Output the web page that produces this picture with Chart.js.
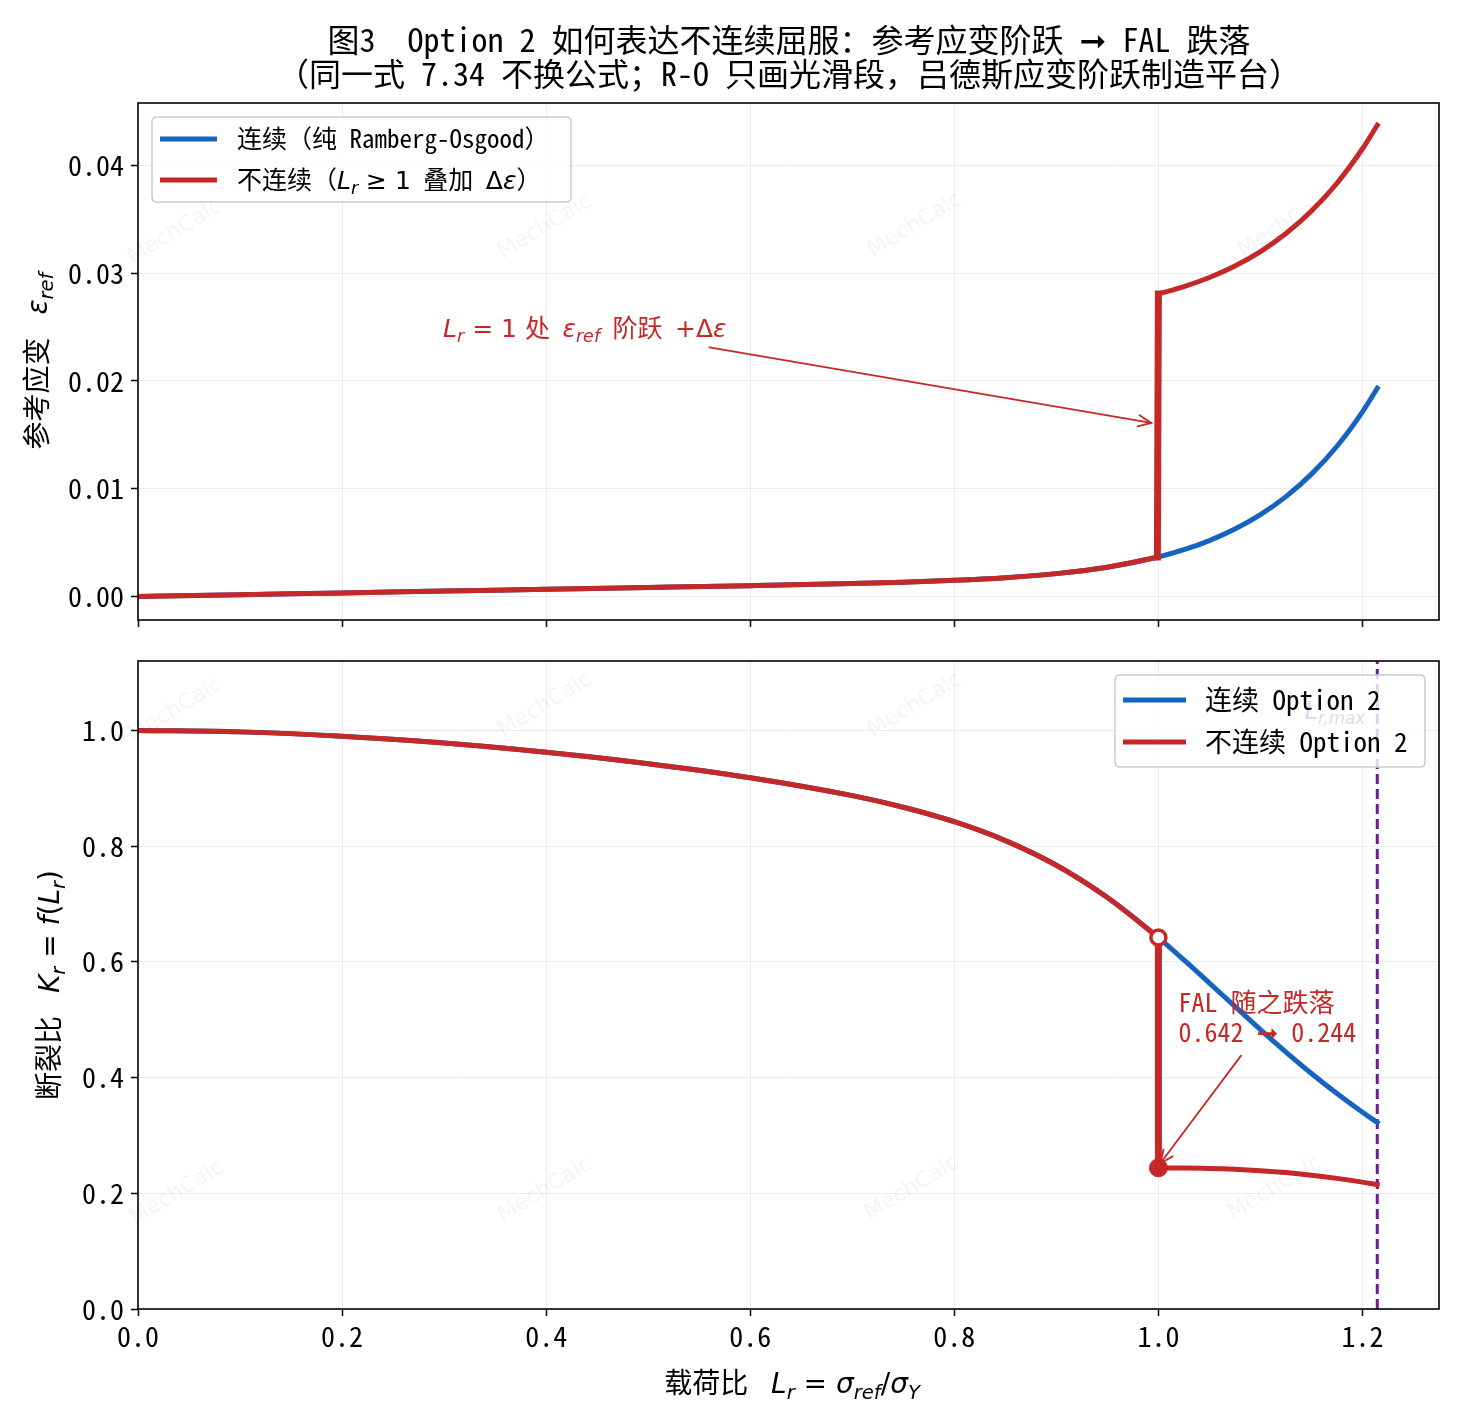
<!DOCTYPE html>
<html><head><meta charset="utf-8">
<script src="https://cdn.jsdelivr.net/npm/chart.js@4.4.1/dist/chart.umd.min.js"></script>
<style>
html,body{margin:0;padding:0;background:#fff;}
#wrap{position:relative;width:1459px;height:1419px;background:#fff;overflow:hidden;}
canvas{position:absolute;left:0;}
</style>
</head><body>
<div id="wrap">
<canvas id="c1" width="1459" height="640" style="top:0px;width:1459px;height:640px"></canvas>
<canvas id="c2" width="1459" height="779" style="top:640px;width:1459px;height:779px"></canvas>
</div>
<script>
// ---------------- DATA ----------------
const LrCont = [0, 0.1, 0.2, 0.3, 0.4, 0.5, 0.6, 0.7, 0.75, 0.8, 0.85, 0.9, 0.95, 1.0, 1.025, 1.05, 1.075, 1.1, 1.125, 1.15, 1.175, 1.2, 1.2145];
const epsCont = [0, 0.000167, 0.000333, 0.0005, 0.000667, 0.000834, 0.001007, 0.001205, 0.001332, 0.001501, 0.001746, 0.002121, 0.002715, 0.003667, 0.004339, 0.005188, 0.006255, 0.007594, 0.009268, 0.011353, 0.013938, 0.017134, 0.019316];
const LrUpper = [1.0, 1.025, 1.05, 1.075, 1.1, 1.125, 1.15, 1.175, 1.2, 1.2145];
const epsDisc = [0.028067, 0.028739, 0.029588, 0.030655, 0.031994, 0.033668, 0.035753, 0.038338, 0.041534, 0.043716];
const KrCont = [1.0, 0.9975, 0.9901, 0.9782, 0.9622, 0.9425, 0.9183, 0.8873, 0.8673, 0.8422, 0.8096, 0.7669, 0.7111, 0.6419, 0.6034, 0.5634, 0.5229, 0.4829, 0.4441, 0.4071, 0.3723, 0.3400, 0.3224];
const KrDisc = [0.2435, 0.2436, 0.2430, 0.2415, 0.2391, 0.2358, 0.2313, 0.2258, 0.2193, 0.2150];
const LrJump = 1.0;
const LrMax = 1.2145;
const KrBefore = 0.642, KrAfter = 0.244;
const xTicks = [0, 0.2, 0.4, 0.6, 0.8, 1.0, 1.2];
const xTickLabels = ['0.0', '0.2', '0.4', '0.6', '0.8', '1.0', '1.2'];
const yTopTicks = [0, 0.01, 0.02, 0.03, 0.04];
const yTopLabels = ['0.00', '0.01', '0.02', '0.03', '0.04'];
const yBotTicks = [0, 0.2, 0.4, 0.6, 0.8, 1.0];
const yBotLabels = ['0.0', '0.2', '0.4', '0.6', '0.8', '1.0'];

// ---------------- STYLE ----------------
const MONO = '"Noto Sans Mono CJK SC", "DejaVu Sans Mono", "Noto Sans CJK SC", monospace';
const BLUE = '#1565c0', RED = '#c62828', PURPLE = '#6a1b9a', GRID = '#ebebeb';
const LW = 5;

const xy = (xs, ys) => xs.map((x, i) => ({x: x, y: ys[i]}));
const nLow = LrCont.indexOf(LrJump) + 1;

function fontFor(seg, size) {
  const s = seg.sub ? size * 0.7 : size;
  if (seg.f === 'mi') return 'italic ' + s + 'px "DejaVu Sans"';
  if (seg.f === 'm') return s + 'px "DejaVu Sans"';
  if (seg.f === 'a') return s + 'px "DejaVu Sans"';
  return s + 'px ' + MONO;
}
function richWidth(ctx, segs, size) {
  let w = 0;
  for (const sg of segs) { ctx.font = fontFor(sg, size); w += ctx.measureText(sg.t).width; }
  return w;
}
function drawRich(ctx, segs, x, yc, size, color, align) {
  const w = richWidth(ctx, segs, size);
  let cx = align === 'center' ? x - w / 2 : (align === 'right' ? x - w : x);
  const base = yc + size * 0.36;
  ctx.save();
  ctx.textBaseline = 'alphabetic'; ctx.textAlign = 'left'; ctx.fillStyle = color;
  for (const sg of segs) {
    ctx.font = fontFor(sg, size);
    ctx.fillText(sg.t, cx, base + (sg.sub ? size * 0.2 : 0));
    cx += ctx.measureText(sg.t).width;
  }
  ctx.restore();
}
function roundRect(ctx, x, y, w, h, r) {
  ctx.beginPath();
  ctx.moveTo(x + r, y); ctx.lineTo(x + w - r, y); ctx.quadraticCurveTo(x + w, y, x + w, y + r);
  ctx.lineTo(x + w, y + h - r); ctx.quadraticCurveTo(x + w, y + h, x + w - r, y + h);
  ctx.lineTo(x + r, y + h); ctx.quadraticCurveTo(x, y + h, x, y + h - r);
  ctx.lineTo(x, y + r); ctx.quadraticCurveTo(x, y, x + r, y); ctx.closePath();
}
function drawLegend(ctx, box, entries, size) {
  ctx.save();
  roundRect(ctx, box.x, box.y, box.w, box.h, 5);
  ctx.fillStyle = 'rgba(255,255,255,0.8)'; ctx.fill();
  ctx.strokeStyle = '#cccccc'; ctx.lineWidth = 1.5; ctx.stroke();
  for (const e of entries) {
    ctx.beginPath(); ctx.strokeStyle = e.color; ctx.lineWidth = LW; ctx.lineCap = 'butt';
    ctx.moveTo(box.lx0, e.y); ctx.lineTo(box.lx1, e.y); ctx.stroke();
    drawRich(ctx, e.segs, box.tx, e.y, size, '#000', 'left');
  }
  ctx.restore();
}
function arrow(ctx, x0, y0, x1, y1, color) {
  ctx.save();
  ctx.strokeStyle = color; ctx.lineWidth = 1.8; ctx.lineCap = 'round';
  ctx.beginPath(); ctx.moveTo(x0, y0); ctx.lineTo(x1, y1); ctx.stroke();
  const a = Math.atan2(y1 - y0, x1 - x0), L = 14, s = 0.42;
  ctx.beginPath();
  ctx.moveTo(x1 - L * Math.cos(a - s), y1 - L * Math.sin(a - s));
  ctx.lineTo(x1, y1);
  ctx.lineTo(x1 - L * Math.cos(a + s), y1 - L * Math.sin(a + s));
  ctx.stroke();
  ctx.restore();
}
function watermark(ctx, pts) {
  ctx.save();
  ctx.fillStyle = 'rgba(0,0,0,0.045)';
  ctx.font = '22px "DejaVu Sans"'; ctx.textAlign = 'center'; ctx.textBaseline = 'middle';
  for (const p of pts) {
    ctx.save(); ctx.translate(p[0], p[1]); ctx.rotate(-31 * Math.PI / 180);
    ctx.fillText('MechCalc', 0, 0); ctx.restore();
  }
  ctx.restore();
}

const overlay = {
  id: 'overlay',
  afterDraw(chart) {
    const ctx = chart.ctx, a = chart.chartArea, sx = chart.scales.x, sy = chart.scales.y;
    const top = chart.canvas.id === 'c1';
    // frame
    ctx.save(); ctx.strokeStyle = '#000'; ctx.lineWidth = 1.6;
    ctx.strokeRect(a.left, a.top, a.right - a.left, a.bottom - a.top); ctx.restore();
    if (top) {
      watermark(ctx, [[175, 232], [545, 227], [915, 225], [1285, 225]]);
      // title
      drawRich(ctx, [{t: '图3  Option 2 如何表达不连续屈服：参考应变阶跃 ', f: 'c'}, {t: '➞', f: 'a'}, {t: ' FAL 跌落', f: 'c'}], 789, 40, 32, '#000', 'center');
      drawRich(ctx, [{t: '（同一式 7.34 不换公式；R-O 只画光滑段，吕德斯应变阶跃制造平台）', f: 'c'}], 789, 74, 32, '#000', 'center');
      // y label
      ctx.save(); ctx.translate(37, 361); ctx.rotate(-Math.PI / 2);
      drawRich(ctx, [{t: '参考应变 ', f: 'c'}, {t: ' ε', f: 'mi'}, {t: 'ref', f: 'mi', sub: true}], 0, 0, 28, '#000', 'center');
      ctx.restore();
      // annotation
      drawRich(ctx, [{t: 'L', f: 'mi'}, {t: 'r', f: 'mi', sub: true}, {t: ' = 1 ', f: 'm'}, {t: '处 ', f: 'c'},
        {t: 'ε', f: 'mi'}, {t: 'ref', f: 'mi', sub: true}, {t: ' 阶跃 ', f: 'c'}, {t: '+Δ', f: 'm'}, {t: 'ε', f: 'mi'}],
        sx.getPixelForValue(0.299), sy.getPixelForValue(0.0249), 25, RED, 'left');
      arrow(ctx, sx.getPixelForValue(0.560), sy.getPixelForValue(0.0231), sx.getPixelForValue(0.993), sy.getPixelForValue(0.0161), RED);
      drawLegend(ctx, {x: 152, y: 117, w: 419, h: 85, lx0: 160, lx1: 217, tx: 237}, [
        {y: 139, color: BLUE, segs: [{t: '连续（纯 Ramberg-Osgood）', f: 'c'}]},
        {y: 180, color: RED, segs: [{t: '不连续（', f: 'c'}, {t: 'L', f: 'mi'}, {t: 'r', f: 'mi', sub: true}, {t: ' ≥ 1', f: 'm'},
          {t: ' 叠加 ', f: 'c'}, {t: 'Δ', f: 'm'}, {t: 'ε', f: 'mi'}, {t: '）', f: 'c'}]}
      ], 25);
    } else {
      watermark(ctx, [[175, 70], [545, 65], [915, 65], [1285, 65], [177, 553], [545, 550], [912, 548], [1275, 548]]);
      // y label
      ctx.save(); ctx.translate(49, 345); ctx.rotate(-Math.PI / 2);
      drawRich(ctx, [{t: '断裂比 ', f: 'c'}, {t: ' K', f: 'mi'}, {t: 'r', f: 'mi', sub: true}, {t: ' = ', f: 'm'},
        {t: 'f', f: 'mi'}, {t: '(', f: 'm'}, {t: 'L', f: 'mi'}, {t: 'r', f: 'mi', sub: true}, {t: ')', f: 'm'}], 0, 0, 28, '#000', 'center');
      ctx.restore();
      // x label
      drawRich(ctx, [{t: '载荷比 ', f: 'c'}, {t: ' L', f: 'mi'}, {t: 'r', f: 'mi', sub: true}, {t: ' = ', f: 'm'},
        {t: 'σ', f: 'mi'}, {t: 'ref', f: 'mi', sub: true}, {t: '/', f: 'm'}, {t: 'σ', f: 'mi'}, {t: 'Y', f: 'mi', sub: true}],
        792, 743, 28, '#000', 'center');
      // annotation
      const tx = sx.getPixelForValue(1.0196);
      drawRich(ctx, [{t: 'FAL 随之跌落', f: 'c'}], tx, sy.getPixelForValue(0.529), 26, RED, 'left');
      drawRich(ctx, [{t: KrBefore.toFixed(3) + ' ', f: 'c'}, {t: '➞', f: 'a'}, {t: ' ' + KrAfter.toFixed(3), f: 'c'}], tx, sy.getPixelForValue(0.477), 26, RED, 'left');
      arrow(ctx, sx.getPixelForValue(1.081), sy.getPixelForValue(0.438), sx.getPixelForValue(1.002), sy.getPixelForValue(0.252), RED);
      // Lr,max label (behind legend)
      drawRich(ctx, [{t: 'L', f: 'mi'}, {t: 'r,max', f: 'mi', sub: true}], sx.getPixelForValue(LrMax) - 12, sy.getPixelForValue(1.035), 24, 'rgba(106,27,154,0.9)', 'right');
      drawLegend(ctx, {x: 1115, y: 35, w: 310, h: 92, lx0: 1123, lx1: 1186, tx: 1205}, [
        {y: 60, color: BLUE, segs: [{t: '连续 Option 2', f: 'c'}]},
        {y: 102, color: RED, segs: [{t: '不连续 Option 2', f: 'c'}]}
      ], 27);
    }
  }
};

function scalesCfg(yMin, yMax, yT, yL, showX, xH) {
  const grid = {color: GRID, lineWidth: 1, tickColor: '#000', tickLength: 7, tickWidth: 1.5};
  return {
    x: {type: 'linear', min: 0, max: 1.275,
      afterBuildTicks: s => { s.ticks = xTicks.map(v => ({value: v})); },
      afterFit: s => { s.height = xH; s.paddingLeft = 0; s.paddingRight = 0; },
      ticks: {display: showX, callback: (v, i) => xTickLabels[i], font: {family: MONO, size: 28}, color: '#000', padding: 4, maxRotation: 0, autoSkip: false},
      grid: grid, border: {display: false}},
    y: {type: 'linear', min: yMin, max: yMax,
      afterBuildTicks: s => { s.ticks = yT.map(v => ({value: v})); },
      afterFit: s => { s.width = 138; s.paddingTop = 0; s.paddingBottom = 0; },
      ticks: {callback: (v, i) => yL[i], font: {family: MONO, size: 28}, color: '#000', padding: 7, autoSkip: false},
      grid: grid, border: {display: false}}
  };
}
const base = (padTop, padBottom) => ({
  responsive: false, animation: false, devicePixelRatio: 1,
  layout: {padding: {left: 0, right: 20, top: padTop, bottom: padBottom}},
  plugins: {legend: {display: false}, tooltip: {enabled: false}},
  elements: {point: {radius: 0}, line: {borderCapStyle: 'square', borderJoinStyle: 'round'}}
});
const lineDs = (data, color, w, order, extra) => Object.assign({data: data, showLine: true, borderColor: color, backgroundColor: color,
  borderWidth: w, pointRadius: 0, fill: false, cubicInterpolationMode: 'monotone', order: order}, extra || {});

// top chart
new Chart(document.getElementById('c1'), {
  type: 'scatter',
  data: {datasets: [
    lineDs(xy(LrCont, epsCont), BLUE, LW, 5),
    lineDs(xy(LrCont.slice(0, nLow), epsCont.slice(0, nLow)), RED, LW, 2),
    lineDs([{x: LrJump - 0.001, y: epsCont[nLow - 1]}, {x: LrJump, y: epsDisc[0]}], RED, 7, 1, {cubicInterpolationMode: 'default', tension: 0}),
    lineDs(xy(LrUpper, epsDisc), RED, LW, 2)
  ]},
  options: Object.assign(base(103, 0), {scales: scalesCfg(-0.00218, 0.04578, yTopTicks, yTopLabels, false, 20)}),
  plugins: [overlay]
});

// bottom chart
new Chart(document.getElementById('c2'), {
  type: 'scatter',
  data: {datasets: [
    lineDs([{x: LrMax, y: 0}, {x: LrMax, y: 1.12}], PURPLE, 3, 6, {borderDash: [10, 5], borderCapStyle: 'butt', tension: 0, cubicInterpolationMode: 'default'}),
    lineDs(xy(LrCont, KrCont), BLUE, LW, 5),
    lineDs(xy(LrCont.slice(0, nLow), KrCont.slice(0, nLow)), RED, LW, 2),
    lineDs([{x: LrJump, y: KrBefore}, {x: LrJump, y: KrAfter}], RED, 7, 2, {tension: 0, cubicInterpolationMode: 'default'}),
    lineDs(xy(LrUpper, KrDisc), RED, LW, 2),
    {data: [{x: LrJump, y: KrBefore}], showLine: false, pointRadius: 7.5, pointBackgroundColor: '#fff', pointBorderColor: RED, pointBorderWidth: 3.5, order: 0},
    {data: [{x: LrJump, y: KrAfter}], showLine: false, pointRadius: 9, pointBackgroundColor: RED, pointBorderColor: RED, pointBorderWidth: 1, order: 0}
  ]},
  options: Object.assign(base(21, 0), {scales: scalesCfg(0, 1.12, yBotTicks, yBotLabels, true, 110)}),
  plugins: [overlay]
});
</script>
</body></html>
